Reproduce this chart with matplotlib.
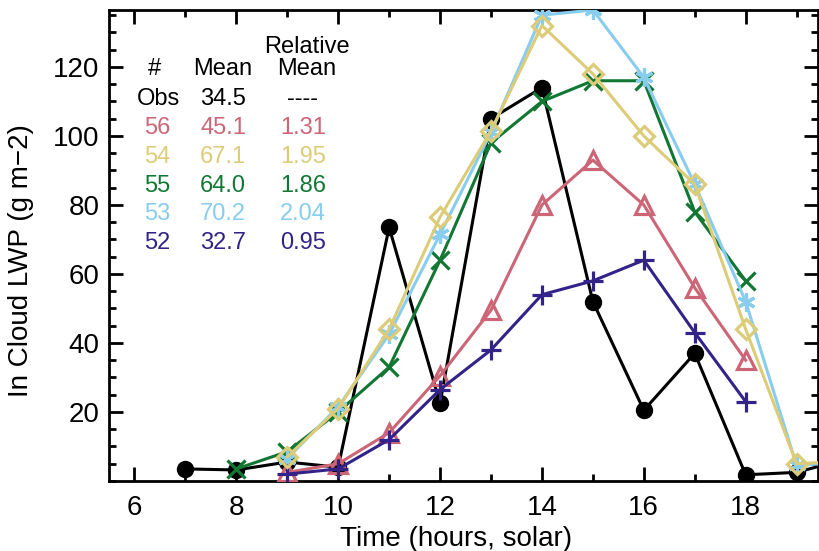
import matplotlib
matplotlib.use('Agg')
import matplotlib.pyplot as plt
import matplotlib.ticker as ticker

plt.rcParams['font.family'] = ['Liberation Sans', 'DejaVu Sans']

# observed (black) and model series, hours 7..20
obs_hours = [7, 8, 9, 10, 11, 12, 13, 14, 15, 16, 17, 18, 19, 20]
obs_lwp = [3.5, 3.2, 5.5, 4.0, 73.5, 22.5, 105, 114, 52, 20.5, 37, 1.8, 2.5, 6.5]

pink_hours = [9, 10, 11, 12, 13, 14, 15, 16, 17, 18]
pink_lwp = [2.5, 5.0, 14.0, 30.5, 49.5, 80, 93, 80, 56, 35]

yellow_hours = [9, 10, 11, 12, 13, 14, 15, 16, 17, 18, 19, 20]
yellow_lwp = [7.0, 21, 44, 76.5, 101.5, 132, 118, 100, 86, 44, 5.0, 5.8]

green_hours = [8, 9, 10, 11, 12, 13, 14, 15, 16, 17, 18]
green_lwp = [3.5, 8.5, 20.0, 33, 64, 98, 110, 116, 116, 78, 58]

blue_hours = [9, 10, 11, 12, 13, 14, 15, 16, 17, 18, 19, 20]
blue_lwp = [6.5, 21.5, 42.5, 71.5, 101, 135, 136.5, 117, 86, 52, 4.5, 5.5]

navy_hours = [9, 10, 11, 12, 13, 14, 15, 16, 17, 18]
navy_lwp = [2.0, 3.5, 12, 26.5, 38, 54, 58, 64, 43, 23]

# table in the upper left
n_obs = ['56', '54', '55', '53', '52']
means = ['45.1', '67.1', '64.0', '70.2', '32.7']
rel_means = ['1.31', '1.95', '1.86', '2.04', '0.95']
colors = ['#CC6677', '#DDCC77', '#117733', '#88CCEE', '#332288']

fig = plt.figure(figsize=(8.19, 5.51), dpi=100)
ax = fig.add_axes([109/819, 1 - 481/551, 709/819, 471/551])

lw = 2.2
ax.plot(obs_hours, obs_lwp, '-', color='black', lw=lw, marker='o', ms=11.5, zorder=3)
ax.plot(pink_hours, pink_lwp, '-', color=colors[0], lw=lw, marker='^', ms=13,
        mfc='none', mew=2.3, zorder=4)
ax.plot(green_hours, green_lwp, '-', color=colors[2], lw=lw, marker='x', ms=12.5,
        mew=2.3, zorder=4)
ax.plot(blue_hours, blue_lwp, '-', color=colors[3], lw=lw, marker=(6, 2, 0), ms=13,
        mew=2.3, zorder=4)
ax.plot(yellow_hours, yellow_lwp, '-', color=colors[1], lw=lw, marker='D', ms=10.5,
        mfc='none', mew=2.3, zorder=5)
ax.plot(navy_hours, navy_lwp, '-', color=colors[4], lw=lw, marker='+', ms=14,
        mew=2.3, zorder=4)

ax.set_xlim(5.5, 19.42)
ax.set_ylim(0, 136.5)
ax.set_xticks([6, 8, 10, 12, 14, 16, 18])
ax.xaxis.set_minor_locator(ticker.MultipleLocator(1))
ax.set_yticks([20, 40, 60, 80, 100, 120])
ax.yaxis.set_minor_locator(ticker.MultipleLocator(5))
ax.tick_params(which='both', direction='in', top=True, right=True, width=2,
               labelsize=20, color='black')
ax.tick_params(which='major', length=10)
ax.tick_params(which='minor', length=5)
ax.tick_params(axis='x', which='major', pad=10)
ax.tick_params(axis='y', which='major', pad=7)
for s in ax.spines.values():
    s.set_linewidth(2)

ax.set_xlabel('Time (hours, solar)', fontsize=20)
ax.xaxis.set_label_coords(0.489, -0.096)
ax.set_ylabel('In Cloud LWP (g m\u22122)', fontsize=20)
ax.yaxis.set_label_coords(-0.106, 0.469)

# table text (pixel positions converted to axes fraction)
def axpos(px, py):
    return (px - 109) / 709, (481 - py) / 471

fs = 17
for txt, px, py in [('#', 155, 69), ('Mean', 223, 69), ('Relative', 307, 47),
                    ('Mean', 307, 69), ('Obs', 158, 99), ('34.5', 223, 99),
                    ('----', 303, 99)]:
    ax.text(*axpos(px, py), txt, transform=ax.transAxes, ha='center', va='center',
            fontsize=fs, color='black')

for i in range(len(n_obs)):
    py = 128 + i * 28.8
    ax.text(*axpos(157, py), n_obs[i], transform=ax.transAxes, ha='center',
            va='center', fontsize=fs, color=colors[i])
    ax.text(*axpos(223, py), means[i], transform=ax.transAxes, ha='center',
            va='center', fontsize=fs, color=colors[i])
    ax.text(*axpos(303, py), rel_means[i], transform=ax.transAxes, ha='center',
            va='center', fontsize=fs, color=colors[i])

fig.savefig('out.png', dpi=100)
